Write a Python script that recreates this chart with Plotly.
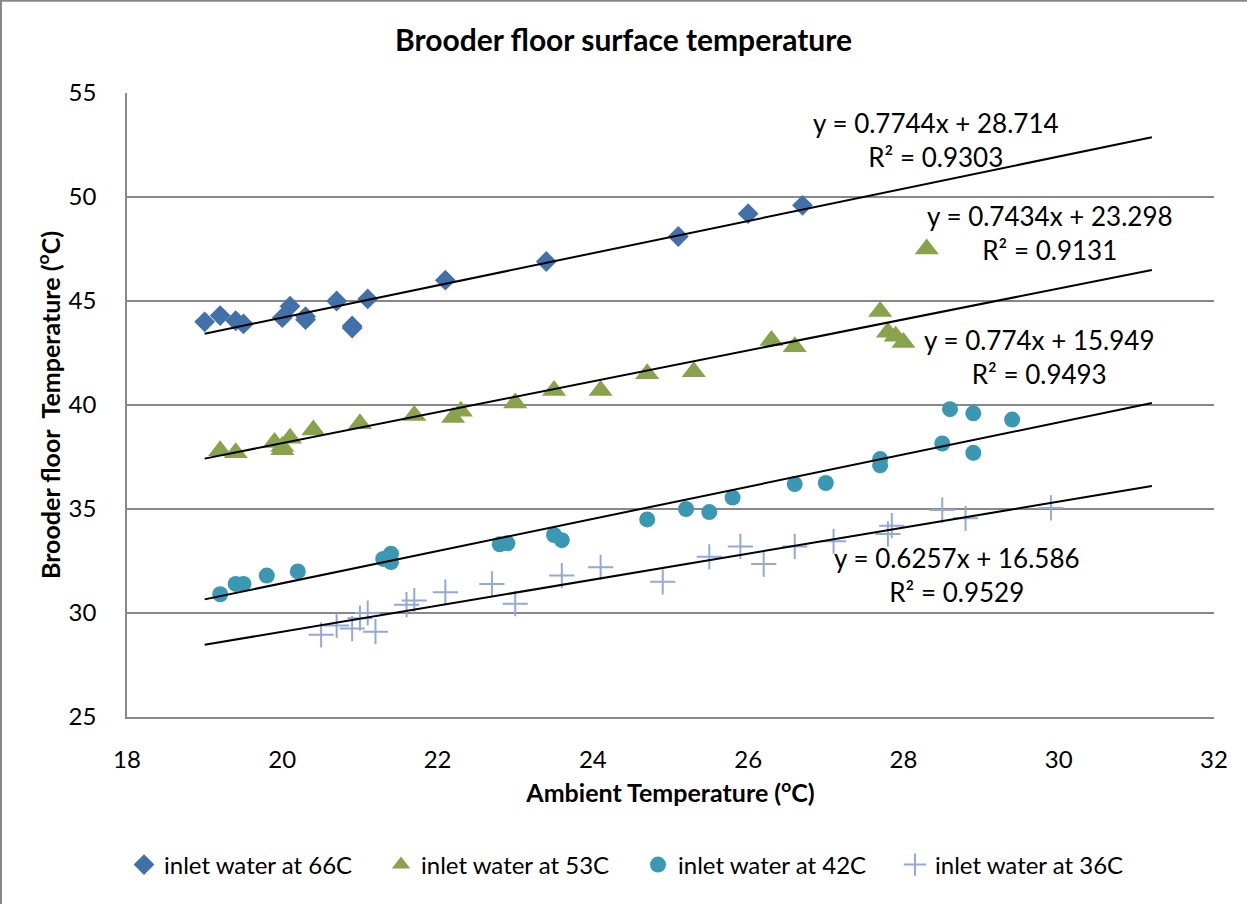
import plotly.graph_objects as go

# Ambient air temperature (°C) against brooder floor surface temperature (°C)
ambient_66 = [19.0, 19.2, 19.4, 19.5, 20.0, 20.1, 20.3, 20.3, 20.7, 20.9, 20.9, 21.1, 22.1, 23.4, 25.1, 26.0, 26.7]
floor_66 = [44.0, 44.3, 44.05, 43.9, 44.2, 44.75, 44.25, 44.1, 45.0, 43.8, 43.7, 45.1, 46.0, 46.9, 48.1, 49.2, 49.6]

ambient_53 = [19.2, 19.4, 19.9, 20.0, 20.0, 20.1, 20.4, 21.0, 21.7, 22.2, 22.3, 23.0, 23.5, 24.1,
              24.7, 25.3, 26.3, 26.6, 27.7, 27.8, 27.9, 28.0, 28.3]
floor_53 = [37.8, 37.7, 38.2, 37.85, 38.0, 38.4, 38.8, 39.1, 39.5, 39.4, 39.7, 40.1, 40.7, 40.7,
            41.5, 41.6, 43.1, 42.8, 44.5, 43.5, 43.3, 43.0, 47.5]

ambient_42 = [19.2, 19.4, 19.5, 19.8, 20.2, 21.3, 21.4, 21.4, 22.8, 22.9, 23.5, 23.6, 24.7, 25.2,
              25.5, 25.8, 26.6, 27.0, 27.7, 27.7, 28.5, 28.6, 28.9, 28.9, 29.4]
floor_42 = [30.9, 31.4, 31.4, 31.8, 32.0, 32.6, 32.85, 32.45, 33.3, 33.35, 33.75, 33.5, 34.5, 35.0,
            34.85, 35.55, 36.2, 36.25, 37.4, 37.1, 38.15, 39.8, 39.6, 37.7, 39.3]

ambient_36 = [20.5, 20.7, 20.9, 21.0, 21.1, 21.2, 21.6, 21.7, 22.1, 22.7, 23.0, 23.6, 24.1, 24.9,
              25.5, 25.9, 26.2, 26.6, 27.1, 27.8, 27.85, 28.5, 28.8, 29.9]
floor_36 = [28.95, 29.4, 29.25, 29.75, 30.0, 29.1, 30.4, 30.6, 31.0, 31.4, 30.45, 31.8, 32.2, 31.5,
            32.7, 33.2, 32.35, 33.2, 33.45, 33.8, 34.2, 34.95, 34.55, 35.05]

series_names = ["inlet water at 66C", "inlet water at 53C", "inlet water at 42C", "inlet water at 36C"]

# Linear trendlines: y = slope * x + intercept
trend_slope = [0.7744, 0.7434, 0.774, 0.6257]
trend_intercept = [28.714, 23.298, 15.949, 16.586]
trend_r2 = [0.9303, 0.9131, 0.9493, 0.9529]
trend_x_start = 19.0
trend_x_end = 31.2

# Equation label anchor points (data coordinates)
label_x = [28.42, 29.89, 29.75, 28.69]
label_y = [52.74, 48.29, 42.33, 31.85]

FONT = "Lato, 'DejaVu Sans', sans-serif"
GRID = "#888888"

xs = [ambient_66, ambient_53, ambient_42, ambient_36]
ys = [floor_66, floor_53, floor_42, floor_36]
markers = [
    dict(symbol="diamond", size=16, color="#4271AA"),
    dict(symbol="triangle-up", size=21, color="#88A34B"),
    dict(symbol="circle", size=16, color="#3B98B2"),
    dict(symbol="cross-thin", size=18, color="#93A9D6", line=dict(width=2, color="#93A9D6")),
]

fig = go.Figure()

for x, y, name, mk in zip(xs, ys, series_names, markers):
    fig.add_trace(go.Scatter(x=x, y=y, mode="markers", name=name, marker=mk))

for m, b in zip(trend_slope, trend_intercept):
    tx = [trend_x_start, trend_x_end]
    fig.add_trace(go.Scatter(
        x=tx, y=[m * v + b for v in tx], mode="lines",
        line=dict(color="black", width=2), showlegend=False, hoverinfo="skip",
    ))

for m, b, r2, lx, ly in zip(trend_slope, trend_intercept, trend_r2, label_x, label_y):
    fig.add_annotation(
        x=lx, y=ly, xref="x", yref="y", showarrow=False,
        text=f"y = {m:g}x + {b:g}<br>R² = {r2:g}",
        font=dict(family=FONT, size=26, color="black"), align="center",
    )

# Chart-area frame (top and left edges)
L, R, T, B = 127, 33, 93, 187
W, H = 1247, 904
pw, ph = W - L - R, H - T - B
px = lambda v: (v - L) / pw
py = lambda v: (H - B - v) / ph
fig.add_shape(type="line", xref="paper", yref="paper", x0=px(0), x1=px(W), y0=py(0.8), y1=py(0.8),
              line=dict(color="#888888", width=2))
fig.add_shape(type="line", xref="paper", yref="paper", x0=px(1), x1=px(1), y0=py(0), y1=py(H),
              line=dict(color="#888888", width=2))

fig.update_layout(
    width=W, height=H,
    margin=dict(l=L, r=R, t=T, b=B),
    paper_bgcolor="white", plot_bgcolor="white",
    font=dict(family=FONT, size=24, color="black"),
    title=dict(text="<b>Brooder floor surface temperature</b>", x=0.5, xref="container",
               y=1 - 40 / H, yref="container", xanchor="center", yanchor="middle",
               font=dict(family=FONT, size=30, color="black")),
    showlegend=True,
    legend=dict(orientation="h", xref="container", yref="container", x=124 / W, xanchor="left",
                y=1 - 865 / H, yanchor="middle", font=dict(family=FONT, size=24, color="black"),
                itemwidth=30, entrywidth=212, entrywidthmode="pixels"),
    xaxis=dict(range=[18, 32], dtick=2, tick0=18, showgrid=False, zeroline=False,
               showline=True, linecolor=GRID, linewidth=1.5, ticks="", ticklabelstandoff=20,
               tickfont=dict(family=FONT, size=24),
               title=dict(text="<b>Ambient Temperature (<sup>o</sup>C)</b>", standoff=13,
                          font=dict(family=FONT, size=25))),
    yaxis=dict(range=[25, 55], dtick=5, tick0=25, showgrid=True, gridcolor=GRID, gridwidth=1.5,
               zeroline=False, showline=True, linecolor=GRID, linewidth=1.5, ticks="",
               ticklabelstandoff=24, tickfont=dict(family=FONT, size=24),
               title=dict(text="<b>Brooder floor  Temperature (<sup>o</sup>C)</b>", standoff=1,
                          font=dict(family=FONT, size=25))),
)

fig.write_html("out.html")
